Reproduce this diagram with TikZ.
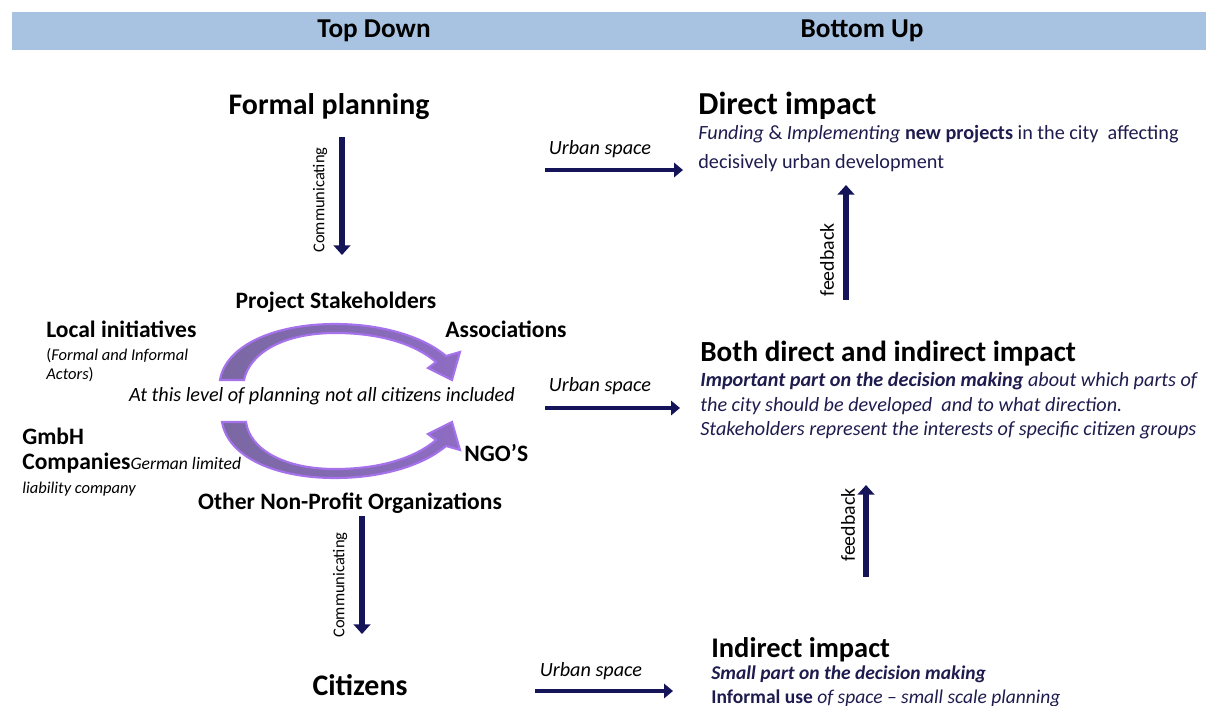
\documentclass[tikz,border=0pt]{standalone}
\usepackage{fontspec}
\setmainfont{Carlito}
\usetikzlibrary{arrows.meta,positioning}

\definecolor{headblue}{RGB}{168,195,225}
\definecolor{arrownavy}{RGB}{22,20,88}
\definecolor{textnavy}{RGB}{30,28,78}
\definecolor{bendlight}{RGB}{166,114,236}
\definecolor{benddark}{RGB}{122,104,162}

\tikzset{
  headtext/.style={font=\fontsize{15.5}{18}\selectfont\bfseries, anchor=base},
  bigtitle/.style={font=\fontsize{17}{20}\selectfont\bfseries, anchor=base},
  label/.style={font=\fontsize{13.4}{16}\selectfont\bfseries, anchor=base},
  smallnote/.style={font=\fontsize{9.4}{11}\selectfont, anchor=base west},
  desc/.style={font=\fontsize{11.5}{13}\selectfont, text=textnavy, anchor=base west},
  descit/.style={desc, font=\fontsize{11.5}{13}\selectfont\itshape},
  urban/.style={font=\fontsize{11.5}{13}\selectfont\itshape, anchor=base},
  sidelabel/.style={font=\fontsize{9.4}{11}\selectfont, rotate=90},
  fblabel/.style={font=\fontsize{11.3}{13}\selectfont, rotate=90},
  flowarrow/.style={draw=arrownavy, line width=3pt, -{Triangle[length=5.5pt,width=9.5pt]}},
  spacearrow/.style={draw=arrownavy, line width=2.6pt, -{Triangle[length=5pt,width=8pt]}},
  bendfill/.style={draw=bendlight, line width=1.2pt, left color=benddark, right color=benddark!55!bendlight}
}

\begin{document}
\begin{tikzpicture}[x=0.02cm, y=-0.02cm, inner sep=0pt]
  \useasboundingbox (0,0) rectangle (1206,706);

  % header band
  \fill[headblue] (12,12) rectangle (1206,50);
  \node[headtext] (topdown) at (374,38) {Top Down};
  \node[headtext] (bottomup) at (862,38) {Bottom Up};

  % top down column
  \node[bigtitle] (formal) at (329,114) {Formal planning};
  \node[label] (stake) at (336,308) {Project Stakeholders};
  \node[label, anchor=base west] (local) at (46,337) {Local initiatives};
  \node[smallnote] (localnote) at (46,360) {(\textit{Formal and Informal}};
  \node[smallnote] (localnote2) at (46,379) {\textit{Actors})};
  \node[label, anchor=base west] (assoc) at (445,337) {Associations};
  \node[font=\fontsize{11.5}{13}\selectfont\itshape, anchor=base] (level) at (322,401)
    {At this level of planning not all citizens included};
  \node[label, anchor=base west] (gmbh) at (22,444) {GmbH};
  \node[anchor=base west] (companies) at (22,469)
    {\fontsize{13.4}{16}\selectfont\bfseries Companies\fontsize{10}{12}\selectfont\mdseries\itshape German limited};
  \node[smallnote] (liability) at (22,493) {\textit{liability company}};
  \node[label, anchor=base west] (ngo) at (464,461) {NGO’S};
  \node[label] (otherorg) at (350,509) {Other Non-Profit Organizations};
  \node[bigtitle] (citizens) at (360,695) {Citizens};

  % bent arrows round the stakeholders
  \begin{scope}
    \path[bendfill] (220,380) .. controls (226,345) and (275,324) .. (335,324)
      .. controls (385,324) and (425,338) .. (446,356)
      -- (460,352) -- (452,380) -- (428,368) -- (436,362)
      .. controls (415,344) and (380,333) .. (335,333)
      .. controls (285,333) and (250,352) .. (244,380) -- cycle;
  \end{scope}
  \begin{scope}[shift={(0,802)}, yscale=-1]
    \path[bendfill] (222,380) .. controls (228,345) and (275,324) .. (335,324)
      .. controls (385,324) and (425,338) .. (446,356)
      -- (460,352) -- (452,380) -- (428,368) -- (436,362)
      .. controls (415,344) and (380,333) .. (335,333)
      .. controls (285,333) and (250,352) .. (246,380) -- cycle;
  \end{scope}

  % communicating arrows
  \coordinate (comm1a) at (342,137);
  \coordinate (comm1b) at (342,255);
  \coordinate (comm2a) at (362,516);
  \coordinate (comm2b) at (362,634);
  \draw[flowarrow] (comm1a) -- (comm1b);
  \draw[flowarrow] (comm2a) -- (comm2b);
  \node[sidelabel] (comm1) at (320,200) {Communicating};
  \node[sidelabel] (comm2) at (340,585) {Communicating};

  % urban space arrows
  \node[urban] (urban1) at (600,154) {Urban space};
  \node[urban] (urban2) at (600,391) {Urban space};
  \node[urban] (urban3) at (591,676) {Urban space};
  \coordinate (sp1a) at (545,170);
  \coordinate (sp1b) at (683,170);
  \coordinate (sp2a) at (545,408);
  \coordinate (sp2b) at (680,408);
  \coordinate (sp3a) at (535,691);
  \coordinate (sp3b) at (673,691);
  \draw[spacearrow] (sp1a) -- (sp1b);
  \draw[spacearrow] (sp2a) -- (sp2b);
  \draw[spacearrow] (sp3a) -- (sp3b);

  % bottom up column
  \node[bigtitle, anchor=base west, font=\fontsize{18.2}{21}\selectfont\bfseries] (direct) at (698,114) {Direct impact};
  \node[desc] (direct1) at (698,139)
    {\textit{Funding} \& \textit{Implementing} \textbf{new projects} in the city\ \ affecting};
  \node[desc] (direct2) at (698,168) {decisively urban development};

  \node[bigtitle, anchor=base west, font=\fontsize{16.6}{20}\selectfont\bfseries] (both) at (700,361) {Both direct and indirect impact};
  \node[descit] (both1) at (700,386)
    {\textbf{Important part on the decision making} about which parts of};
  \node[descit] (both2) at (700,411)
    {the city should be developed\ \ and to what direction.};
  \node[descit] (both3) at (700,435)
    {Stakeholders represent the interests of specific citizen groups};

  \node[bigtitle, anchor=base west, font=\fontsize{16.2}{20}\selectfont\bfseries] (indirect) at (711,657) {Indirect impact};
  \node[desc, font=\fontsize{11.1}{13}\selectfont\itshape\bfseries] (indirect1) at (711,679)
    {Small part on the decision making};
  \node[desc, font=\fontsize{11.1}{13}\selectfont] (indirect2) at (711,703)
    {\textbf{Informal use} \textit{of space -- small scale planning}};

  % feedback arrows
  \coordinate (fb1a) at (846,300);
  \coordinate (fb1b) at (846,185);
  \coordinate (fb2a) at (866,577);
  \coordinate (fb2b) at (866,485);
  \draw[flowarrow] (fb1a) -- (fb1b);
  \draw[flowarrow] (fb2a) -- (fb2b);
  \node[fblabel] (fb1) at (827,260) {feedback};
  \node[fblabel] (fb2) at (848,525) {feedback};
\end{tikzpicture}
\end{document}
